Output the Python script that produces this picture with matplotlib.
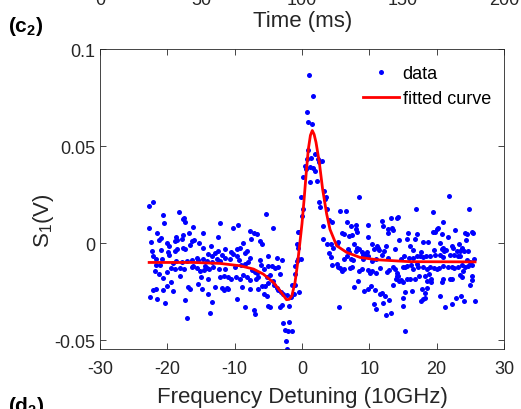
import matplotlib
matplotlib.use("Agg")
import matplotlib.pyplot as plt

# ── Data (detuning in units of 10 GHz, signal in V) ──
# scattered measurement points, grouped by detuning range
seg_a = [(-22.67, 0.0192), (-22.18, 0.0209), (-20.59, 0.0147), (-18.22, 0.0159), (-20.45, 0.0101),
         (-17.72, 0.0123), (-17.33, 0.0106), (-17.58, 0.0127), (-22.77, 0.0077), (-16.14, 0.0085),
         (-21.54, 0.0051), (-16.73, 0.0054), (-14.70, 0.0054), (-20.99, 0.0027), (-21.29, 0.0017),
         (-18.71, 0.0032), (-18.61, 0.0015), (-17.82, 0.0023), (-17.72, 0.0041), (-22.48, 0.0006),
         (-16.39, 0.0011), (-15.99, 0.0018), (-20.10, -0.0002), (-19.80, -0.0014), (-18.91, 0.0008),
         (-15.25, -0.0001), (-16.64, -0.0008), (-22.28, -0.0040), (-20.89, -0.0037), (-19.95, -0.0045),
         (-19.70, -0.0061), (-18.91, -0.0040), (-18.61, -0.0033), (-17.63, -0.0026), (-17.33, -0.0032),
         (-14.75, -0.0025), (-22.18, -0.0066), (-21.73, -0.0083), (-20.79, -0.0083), (-15.65, -0.0075),
         (-15.40, -0.0088), (-14.65, -0.0083), (-18.71, -0.0094), (-17.87, -0.0097), (-17.13, -0.0092),
         (-16.39, -0.0088), (-21.09, -0.0111), (-21.68, -0.0114), (-19.11, -0.0104), (-16.14, -0.0118),
         (-15.55, -0.0131), (-15.15, -0.0142), (-14.56, -0.0138), (-21.88, -0.0142), (-21.24, -0.0159),
         (-20.10, -0.0149), (-19.51, -0.0131), (-18.91, -0.0135), (-18.12, -0.0128), (-17.53, -0.0135),
         (-16.39, -0.0121), (-20.59, -0.0178), (-19.51, -0.0200), (-18.12, -0.0169), (-15.00, -0.0173),
         (-21.68, -0.0235), (-22.08, -0.0241), (-20.69, -0.0243), (-20.10, -0.0221), (-19.11, -0.0247),
         (-16.88, -0.0224), (-16.64, -0.0235), (-15.40, -0.0212), (-14.90, -0.0238), (-22.58, -0.0279),
         (-21.49, -0.0290), (-20.35, -0.0307), (-17.38, -0.0295), (-17.13, -0.0384)]

seg_b = [(-5.35, 0.0151), (-9.46, 0.0094), (-10.25, 0.0077), (-12.23, 0.0101), (-12.43, 0.0029),
         (-7.73, 0.0061), (-7.08, 0.0054), (-6.74, 0.0049), (-6.19, 0.0011), (-5.99, -0.0006),
         (-7.63, 0.0023), (-13.52, -0.0014), (-8.82, -0.0002), (-9.61, -0.0032), (-9.21, -0.0023),
         (-8.47, -0.0049), (-8.22, -0.0040), (-11.44, -0.0032), (-12.53, -0.0040), (-12.93, -0.0049),
         (-10.55, -0.0045), (-10.25, -0.0057), (-9.71, -0.0066), (-11.94, -0.0063), (-13.32, -0.0066),
         (-13.92, -0.0057), (-5.01, -0.0066), (-7.73, -0.0075), (-6.19, -0.0088), (-14.06, -0.0092),
         (-13.42, -0.0097), (-12.68, -0.0083), (-12.18, -0.0092), (-11.44, -0.0078), (-10.70, -0.0083),
         (-9.36, -0.0087), (-7.98, -0.0100), (-14.41, -0.0118), (-14.16, -0.0130), (-13.82, -0.0135),
         (-13.17, -0.0126), (-12.33, -0.0135), (-11.44, -0.0135), (-9.96, -0.0126), (-9.06, -0.0114),
         (-8.47, -0.0109), (-6.09, -0.0114), (-5.60, -0.0135), (-5.01, -0.0118), (-7.48, -0.0140),
         (-6.99, -0.0149), (-6.74, -0.0152), (-13.92, -0.0186), (-12.18, -0.0173), (-11.54, -0.0169),
         (-11.04, -0.0173), (-10.55, -0.0183), (-9.86, -0.0173), (-9.21, -0.0186), (-8.72, -0.0166),
         (-8.22, -0.0173), (-7.73, -0.0190), (-6.89, -0.0183), (-6.49, -0.0173), (-5.25, -0.0173),
         (-5.01, -0.0204), (-12.93, -0.0226), (-11.94, -0.0233), (-11.19, -0.0233), (-10.95, -0.0238),
         (-8.97, -0.0226), (-7.73, -0.0235), (-6.49, -0.0235), (-5.99, -0.0221), (-5.50, -0.0221),
         (-13.92, -0.0260), (-11.54, -0.0243), (-9.66, -0.0290), (-5.60, -0.0264), (-5.25, -0.0272),
         (-13.42, -0.0303), (-8.47, -0.0329), (-7.08, -0.0346), (-5.01, -0.0324), (-13.67, -0.0358),
         (-6.99, -0.0367)]

seg_c = [(1.04, 0.0866), (1.59, 0.0760), (0.70, 0.0677), (0.84, 0.0624), (1.54, 0.0615),
         (-4.35, 0.0075), (-0.54, 0.0058), (-0.79, -0.0007), (-0.64, -0.0025), (3.07, 0.0022),
         (3.76, -0.0004), (4.26, -0.0007), (4.56, -0.0028), (4.01, -0.0052), (4.26, -0.0073),
         (4.41, -0.0111), (-3.76, -0.0076), (-3.02, -0.0088), (-4.50, -0.0119), (-4.01, -0.0128),
         (-3.51, -0.0124), (-1.04, -0.0119), (-0.79, -0.0093), (-0.15, -0.0080), (-3.27, -0.0159),
         (-4.75, -0.0167), (-4.26, -0.0197), (-4.16, -0.0214), (-3.76, -0.0231), (-3.51, -0.0240),
         (-3.12, -0.0252), (-2.77, -0.0265), (-2.18, -0.0269), (-1.68, -0.0279), (-1.19, -0.0262),
         (-1.43, -0.0214), (-1.04, -0.0214), (-0.39, -0.0252), (-3.27, -0.0329), (-2.92, -0.0320),
         (-1.88, -0.0326), (-4.75, -0.0329), (-2.77, -0.0412), (-1.88, -0.0407), (-2.52, -0.0446),
         (-2.13, -0.0451), (-1.53, -0.0455), (-2.38, -0.0506), (-2.28, -0.0546),
         (-0.19, 0.0239), (0.10, 0.0175), (-0.05, 0.0137), (0.94, 0.0481), (0.70, 0.0433),
         (0.45, 0.0398), (0.55, 0.0384), (1.19, 0.0390), (1.68, 0.0385), (1.93, 0.0372),
         (2.32, 0.0433), (2.57, 0.0416), (2.92, 0.0421), (1.93, 0.0458), (1.28, 0.0436),
         (2.17, 0.0321), (1.19, 0.0313), (0.20, 0.0342), (3.31, 0.0269), (3.46, 0.0227),
         (3.51, 0.0235), (2.47, 0.0210), (2.67, 0.0184), (3.66, 0.0175), (4.06, 0.0118),
         (4.41, 0.0107), (3.16, 0.0089), (-0.65, -0.0082), (-0.40, 0.0055), (-1.04, -0.0160)]

seg_d = [(8.51, 0.0239), (5.69, 0.0163), (6.48, 0.0163), (6.63, 0.0110), (7.28, 0.0089),
         (7.97, 0.0093), (8.07, 0.0072), (8.12, 0.0058), (9.85, 0.0093), (11.93, 0.0115),
         (11.98, 0.0089), (12.82, 0.0072), (12.72, 0.0050), (5.89, 0.0051), (6.29, 0.0046),
         (6.98, 0.0038), (7.47, 0.0041), (9.75, 0.0029), (7.77, -0.0005), (8.12, -0.0028),
         (8.46, -0.0031), (10.44, -0.0005), (11.09, -0.0014), (11.34, -0.0023), (12.42, -0.0014),
         (11.43, -0.0035), (10.74, -0.0031), (6.88, -0.0031), (6.98, -0.0045), (7.97, -0.0040),
         (8.86, -0.0048), (9.11, -0.0060), (9.36, -0.0057), (9.60, -0.0045), (9.75, -0.0066),
         (11.83, -0.0062), (12.23, -0.0040), (5.15, -0.0005), (5.40, 0.0003), (6.29, -0.0083),
         (6.63, -0.0069), (7.28, -0.0083), (7.62, -0.0088), (9.11, -0.0083), (10.35, -0.0091),
         (10.94, -0.0083), (12.82, -0.0079), (5.15, -0.0109), (5.40, -0.0121), (5.64, -0.0131),
         (5.89, -0.0143), (6.29, -0.0134), (7.13, -0.0131), (7.47, -0.0126), (8.46, -0.0143),
         (8.86, -0.0134), (9.85, -0.0138), (10.10, -0.0152), (10.44, -0.0143), (10.99, -0.0155),
         (11.58, -0.0131), (12.57, -0.0148), (12.92, -0.0138), (8.37, -0.0195), (7.77, -0.0224),
         (9.26, -0.0246), (9.85, -0.0238), (10.25, -0.0220), (10.84, -0.0243), (11.58, -0.0263),
         (11.83, -0.0255), (12.33, -0.0275), (12.92, -0.0293), (10.74, -0.0315), (12.08, -0.0310),
         (5.49, -0.0329), (10.94, -0.0341), (12.42, -0.0372)]

seg_e = [(16.93, 0.0175), (19.51, 0.0161), (14.06, 0.0127), (14.31, 0.0132), (13.17, 0.0127),
         (13.32, 0.0075), (13.57, 0.0069), (20.99, 0.0110), (20.25, 0.0075), (20.00, 0.0072),
         (19.41, 0.0055), (19.75, 0.0055), (20.74, 0.0046), (15.79, 0.0051), (17.03, 0.0046),
         (16.78, 0.0020), (15.64, 0.0020), (14.46, 0.0017), (18.02, 0.0003), (18.76, 0.0003),
         (20.50, 0.0000), (20.99, -0.0023), (16.04, -0.0014), (16.54, -0.0035), (13.81, -0.0031),
         (17.62, -0.0045), (17.92, -0.0074), (18.42, -0.0069), (19.60, -0.0036), (20.74, -0.0031),
         (21.09, -0.0040), (14.65, -0.0083), (15.15, -0.0069), (15.94, -0.0079), (16.54, -0.0076),
         (17.03, -0.0069), (17.53, -0.0066), (19.01, -0.0069), (19.75, -0.0062), (20.50, -0.0062),
         (20.99, -0.0074), (13.57, -0.0121), (13.81, -0.0134), (14.06, -0.0152), (14.31, -0.0169),
         (15.05, -0.0126), (15.30, -0.0121), (15.55, -0.0117), (16.14, -0.0114), (16.44, -0.0134),
         (17.03, -0.0109), (17.28, -0.0121), (18.02, -0.0121), (18.61, -0.0134), (19.01, -0.0121),
         (19.60, -0.0131), (20.00, -0.0134), (20.40, -0.0131), (20.99, -0.0117), (13.96, -0.0186),
         (14.16, -0.0172), (14.65, -0.0189), (15.55, -0.0186), (16.04, -0.0183), (16.78, -0.0183),
         (17.43, -0.0172), (18.27, -0.0169), (18.91, -0.0160), (19.11, -0.0186), (20.99, -0.0183),
         (13.57, -0.0217), (14.46, -0.0195), (14.95, -0.0200), (18.61, -0.0195), (19.11, -0.0200),
         (20.74, -0.0203), (15.30, -0.0251), (16.29, -0.0246), (17.77, -0.0238), (18.27, -0.0255),
         (18.52, -0.0234), (15.05, -0.0281), (17.62, -0.0298), (18.02, -0.0289), (18.27, -0.0281),
         (20.50, -0.0275), (15.05, -0.0324), (13.17, -0.0358), (15.30, -0.0453)]

seg_f = [(21.83, 0.0241), (24.80, 0.0175), (22.73, 0.0069), (24.21, 0.0051), (24.46, 0.0046),
         (25.20, 0.0058), (25.45, 0.0051), (21.64, 0.0029), (24.36, 0.0017), (23.32, -0.0005),
         (22.33, -0.0014), (22.48, -0.0023), (23.81, -0.0023), (22.97, -0.0040), (23.47, -0.0040),
         (24.11, -0.0040), (24.61, -0.0040), (21.34, -0.0035), (21.98, -0.0062), (22.63, -0.0062),
         (23.12, -0.0066), (23.47, -0.0066), (24.46, -0.0086), (25.60, -0.0083), (24.95, -0.0100),
         (25.20, -0.0114), (24.71, -0.0117), (23.72, -0.0114), (23.22, -0.0126), (22.63, -0.0131),
         (22.23, -0.0121), (21.64, -0.0126), (24.21, -0.0121), (23.96, -0.0143), (23.47, -0.0165),
         (23.81, -0.0177), (25.30, -0.0169), (25.20, -0.0191), (24.95, -0.0217), (21.98, -0.0183),
         (22.33, -0.0183), (23.62, -0.0275), (22.82, -0.0284), (22.23, -0.0312), (21.24, -0.0329),
         (24.11, -0.0298), (25.69, -0.0298)]

# fitted curve, sampled along the red line
curve_x = [-22.7, -16.1, -12.2, -9.2, -7.2, -5.75, -4.25, -3.25, -2.3, -1.9, -1.5, -1.04,
           -0.7, -0.35, 0.0, 0.3, 0.6, 0.94, 1.25, 1.53, 1.8, 2.08, 2.57, 3.06, 3.66, 4.16,
           5.15, 6.63, 8.61, 11.1, 16.0, 25.7]
curve_y = [-0.0100, -0.0100, -0.0105, -0.0117, -0.0134, -0.0160, -0.0203, -0.0246, -0.0292,
           -0.0290, -0.0271, -0.0203, -0.0117, -0.0010, 0.0100, 0.0220, 0.0350, 0.0484, 0.0555,
           0.0580, 0.0560, 0.0519, 0.0416, 0.0278, 0.0150, 0.0070, -0.0014, -0.0048, -0.0074,
           -0.0086, -0.0096, -0.0097]

x_ticks = [-30, -20, -10, 0, 10, 20, 30]
y_ticks = [-0.05, 0, 0.05, 0.1]
y_ticklabels = ["-0.05", "0", "0.05", "0.1"]
top_labels = ["0", "50", "100", "150", "200"]   # tick labels of the panel above (cut off)

# ── Style ────────────────────────────────────────────────────────────────────
INK = "#262626"
plt.rcParams.update({
    "font.family": ["Liberation Sans", "DejaVu Sans"],
    "mathtext.fontset": "custom",
    "mathtext.rm": "Liberation Sans",
    "mathtext.bf": "Liberation Sans:bold",
    "axes.unicode_minus": False,
})

points = seg_a + seg_b + seg_c + seg_d + seg_e + seg_f
data_x = [p[0] for p in points]
data_y = [p[1] for p in points]

W, H = 521, 410
fig = plt.figure(figsize=(W / 100, H / 100), dpi=100)
ax = fig.add_axes([100 / W, 60 / H, 404 / W, 300 / H])

ax.plot(data_x, data_y, linestyle="none", marker="o", ms=3.6, mew=0,
        color="#0000ff", label="data")
ax.plot(curve_x, curve_y, color="#ff0000", lw=2.0, label="fitted curve")

ax.set_xlim(-30, 30)
ax.set_ylim(-0.0546, 0.1)
ax.set_xticks(x_ticks)
ax.set_yticks(y_ticks)
ax.set_yticklabels(y_ticklabels)
ax.tick_params(direction="in", top=True, right=True, length=4, width=0.6,
               labelsize=13, colors=INK)
ax.tick_params(axis="x", pad=8)
ax.tick_params(axis="y", pad=3.5)
for s in ax.spines.values():
    s.set_color(INK)
    s.set_linewidth(0.6)

ax.set_xlabel("Frequency Detuning (10GHz)", fontsize=16, color=INK)
ax.xaxis.set_label_coords(0.5, -0.123)
ax.set_ylabel("S$_1$(V)", fontsize=16, color=INK)
ax.yaxis.set_label_coords(-0.11, 0.43)

ax.legend(loc="upper left", bbox_to_anchor=(0.651, 0.947), frameon=False, fontsize=13,
          handlelength=2.0, handletextpad=0.2, labelspacing=0.45, borderpad=0,
          borderaxespad=0)

# ── Bits of neighbouring panels ──────────────────────────────────────────────
for i, lab in enumerate(top_labels):
    fig.text((100 + 101 * i) / W, 1 - 5 / H, lab, ha="center", va="baseline",
             fontsize=13, color=INK)
fig.text(303 / W, 1 - 22 / H, "Time (ms)", ha="center", va="center", fontsize=16, color=INK)
fig.text(8 / W, 1 - 27 / H, r"(c$_\mathbf{2}$)", ha="left", va="center",
         fontsize=15, fontweight="bold")
fig.text(8 / W, 1 - 395 / H, r"(d$_\mathbf{2}$)", ha="left", va="top",
         fontsize=15, fontweight="bold")

fig.savefig("out.png", dpi=100)
